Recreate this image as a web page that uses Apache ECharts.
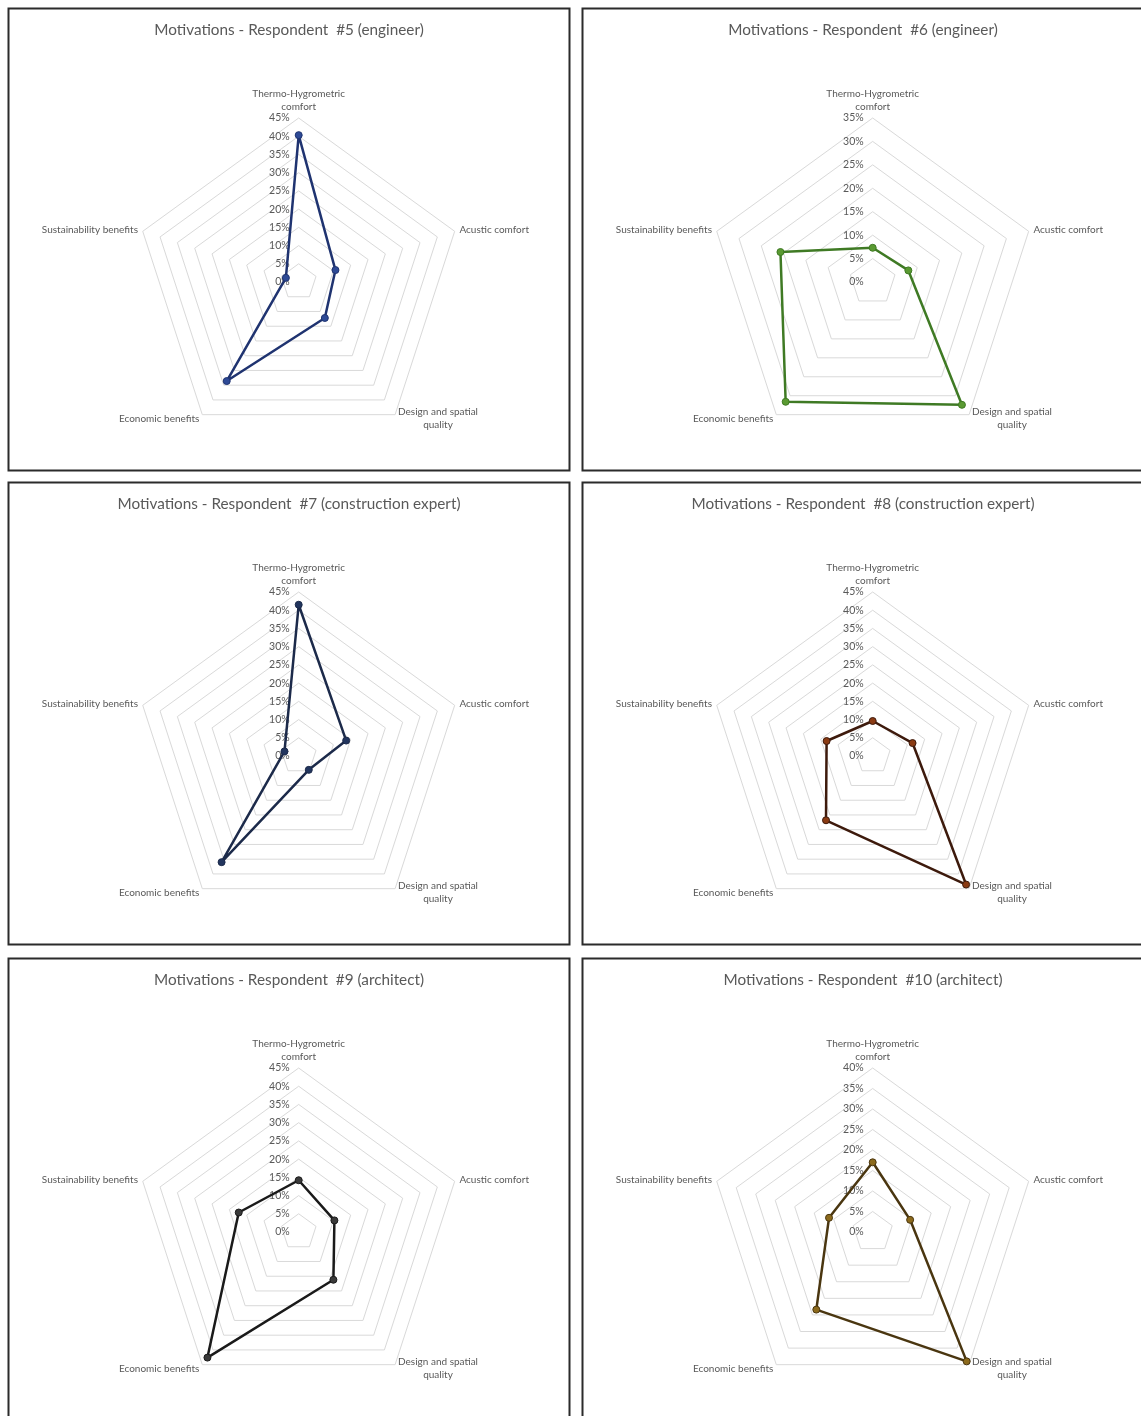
<!DOCTYPE html>
<html>
<head>
<meta charset="utf-8">
<script src="https://cdn.jsdelivr.net/npm/echarts@6/dist/echarts.min.js"></script>
<style>
  html, body { margin: 0; padding: 0; background: #ffffff; }
  #chart { width: 1141px; height: 1416px; }
</style>
</head>
<body>
<div id="chart"></div>
<script>
// Categories in the order they appear clockwise from the top
const categories = ['Thermo-Hygrometric\ncomfort', 'Acustic comfort', 'Design and spatial\nquality', 'Economic benefits', 'Sustainability benefits'];

const titles = [
  'Motivations - Respondent  #5 (engineer)',
  'Motivations - Respondent  #6 (engineer)',
  'Motivations - Respondent  #7 (construction expert)',
  'Motivations - Respondent  #8 (construction expert)',
  'Motivations - Respondent  #9 (architect)',
  'Motivations - Respondent  #10 (architect)'
];

// Radial axis maximum (%) for each chart; ticks every 5%
const axisMax = [45, 35, 45, 45, 45, 40];
const tickStep = 5;

// Values (%) in category order
const resp5  = [40.3, 10.6, 12.2, 33.6, 3.7];
const resp6  = [7.3, 8.0, 32.4, 31.6, 20.7];
const resp7  = [41.5, 13.7, 4.7, 36.0, 4.1];
const resp8  = [9.6, 11.5, 43.6, 21.8, 13.3];
const resp9  = [14.2, 10.3, 16.2, 42.6, 17.3];
const resp10 = [17.0, 9.6, 39.0, 23.4, 11.2];

const seriesValues = [resp5, resp6, resp7, resp8, resp9, resp10];
const lineColors   = ['#1f3370', '#3f7a24', '#1c2a4a', '#3d1a0c', '#1a1a1a', '#4a3610'];
const markerColors = ['#2e4a96', '#5a9a32', '#22355e', '#8a3a12', '#3a3a3a', '#8c6a1c'];

const FONT = 'Lato, "Liberation Sans", sans-serif';
const TXT = '#595959';

// ECharts places radar indicators counter-clockwise; map to that order
const ccwOrder = [0, 4, 3, 2, 1];

const panelLefts = [8, 582];
const panelTops = [8, 482, 958];
const panelW = 561, panelH = 462;

const chart = echarts.init(document.getElementById('chart'), null, { renderer: 'canvas' });

const radars = [], series = [], titleOpts = [], graphics = [];
for (let i = 0; i < 6; i++) {
  const left = panelLefts[i % 2];
  const top = panelTops[Math.floor(i / 2)];
  graphics.push({
    type: 'rect',
    shape: { x: left + 0.5, y: top + 0.5, width: panelW, height: panelH },
    style: { fill: 'none', stroke: '#2b2b2b', lineWidth: 2 },
    silent: true, z: 100
  });
  titleOpts.push({
    text: titles[i],
    left: left + 281,
    top: top + 15,
    textAlign: 'center',
    padding: 0,
    textStyle: { fontFamily: FONT, fontSize: 15.3, fontWeight: 'normal', color: TXT }
  });
  radars.push({
    center: [left + 290.7, top + 274],
    radius: 164,
    startAngle: 90,
    shape: 'polygon',
    splitNumber: axisMax[i] / tickStep,
    nameGap: 5,
    axisName: {
      color: TXT, fontFamily: FONT, fontSize: 10,
      formatter: function (name) {
        return name.split('\n').map(function (s) { return '{c|' + s + '}'; }).join('\n');
      },
      rich: { c: { align: 'center', color: TXT, fontFamily: FONT, fontSize: 10, lineHeight: 13 } }
    },
    axisLine: { show: false },
    axisTick: { show: false },
    axisLabel: { show: false },
    splitLine: { lineStyle: { color: '#d9d9d9', width: 1 } },
    splitArea: { show: false },
    indicator: ccwOrder.map(function (k, j) {
      const ind = { name: categories[k], min: 0, max: axisMax[i] };
      if (j === 0) {
        ind.axisLabel = { show: true, color: TXT, fontFamily: FONT, fontSize: 10.5, formatter: '{value}%', margin: 9 };
      }
      return ind;
    })
  });
  series.push({
    type: 'radar',
    radarIndex: i,
    symbol: 'circle',
    symbolSize: 7,
    lineStyle: { color: lineColors[i], width: 2.5 },
    itemStyle: { color: markerColors[i], borderColor: lineColors[i], borderWidth: 1 },
    data: [{ value: ccwOrder.map(function (k) { return seriesValues[i][k]; }), name: titles[i] }]
  });
}

chart.setOption({
  animation: false,
  backgroundColor: '#ffffff',
  title: titleOpts,
  radar: radars,
  series: series,
  graphic: graphics
});
</script>
</body>
</html>
